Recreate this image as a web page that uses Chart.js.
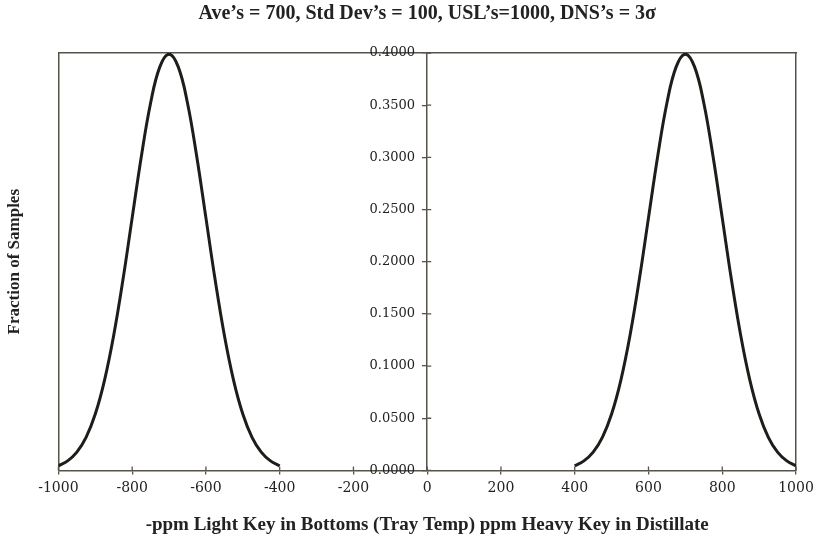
<!DOCTYPE html>
<html>
<head>
<meta charset="utf-8">
<script src="https://cdn.jsdelivr.net/npm/chart.js@4.4.1/dist/chart.umd.min.js"></script>
<style>
  html, body { margin: 0; padding: 0; background: #ffffff; }
  #wrap { width: 816px; height: 539px; }
</style>
</head>
<body>
<div id="wrap"><canvas id="distChart"></canvas></div>
<script>
// Распределения: светлый ключ в кубе (слева) и тяжёлый ключ в дистилляте (справа)
var xLeft = [-1000, -975, -950, -925, -900, -875, -850, -825, -800, -775, -750, -725, -700,
  -675, -650, -625, -600, -575, -550, -525, -500, -475, -450, -425, -400];
var xRight = [400, 425, 450, 475, 500, 525, 550, 575, 600, 625, 650, 675, 700,
  725, 750, 775, 800, 825, 850, 875, 900, 925, 950, 975, 1000];
// доля проб в каждой точке (одинаковая форма для обеих кривых)
var fraction = [0.0044, 0.0091, 0.0175, 0.0317, 0.0540, 0.0863, 0.1295, 0.1826, 0.2420,
  0.3011, 0.3521, 0.3867, 0.3989, 0.3867, 0.3521, 0.3011, 0.2420, 0.1826, 0.1295,
  0.0863, 0.0540, 0.0317, 0.0175, 0.0091, 0.0044];

var xTicks = [-1000, -800, -600, -400, -200, 0, 200, 400, 600, 800, 1000];
var yTicks = [0, 0.05, 0.1, 0.15, 0.2, 0.25, 0.3, 0.35, 0.4];

var titleText = "Ave\u2019s = 700, Std Dev\u2019s = 100, USL\u2019s=1000, DNS\u2019s = 3\u03c3";
var xTitle = "-ppm Light Key in Bottoms (Tray Temp) ppm Heavy Key in Distillate";
var yTitle = "Fraction of Samples";

function toPoints(xs, ys) {
  var pts = [];
  for (var i = 0; i < xs.length; i++) pts.push({ x: xs[i], y: ys[i] });
  return pts;
}

var axisColor = "#57534a";
var lineColor = "#1d1d19";
var textColor = "#222222";

// короткие риски по другую сторону осей (чтобы пересекали линию оси)
var crossTicks = {
  id: "crossTicks",
  afterDraw: function (chart) {
    var ctx = chart.ctx;
    var sx = chart.scales.x;
    var sy = chart.scales.y;
    var y0 = sy.getPixelForValue(0);
    var x0 = sx.getPixelForValue(0);
    ctx.save();
    ctx.strokeStyle = axisColor;
    ctx.lineWidth = 1.3;
    ctx.beginPath();
    xTicks.forEach(function (v) {
      var px = sx.getPixelForValue(v);
      ctx.moveTo(px, y0);
      ctx.lineTo(px, y0 - 4);
    });
    yTicks.forEach(function (v) {
      var py = sy.getPixelForValue(v);
      ctx.moveTo(x0, py);
      ctx.lineTo(x0 + 4, py);
    });
    ctx.stroke();
    ctx.restore();
  }
};

function setTicks(list) {
  return function (axis) {
    axis.ticks = list.map(function (v) { return { value: v }; });
  };
}

// пустая рамка (верх, лево, право) — только линия оси
function frameAxis(pos, extra) {
  var s = {
    type: "linear",
    position: pos,
    ticks: { display: false },
    grid: { display: false, drawTicks: false },
    border: { display: true, color: axisColor, width: 1.5 }
  };
  for (var k in extra) s[k] = extra[k];
  return s;
}

var ctx = document.getElementById("distChart").getContext("2d");
var chart = new Chart(ctx, {
  type: "line",
  data: {
    datasets: [
      {
        data: toPoints(xLeft, fraction),
        borderColor: lineColor,
        borderWidth: 3,
        pointRadius: 0,
        fill: false,
        tension: 0.4
      },
      {
        data: toPoints(xRight, fraction),
        borderColor: lineColor,
        borderWidth: 3,
        pointRadius: 0,
        fill: false,
        tension: 0.4
      }
    ]
  },
  options: {
    responsive: true,
    maintainAspectRatio: false,
    animation: false,
    layout: { padding: { left: 0, right: 20, top: 0, bottom: 2 } },
    plugins: {
      legend: { display: false },
      tooltip: { enabled: false }
    },
    scales: {
      x: {
        type: "linear",
        position: "bottom",
        min: -1000,
        max: 1000,
        afterBuildTicks: setTicks(xTicks),
        afterFit: function (axis) { axis.paddingRight = 0; },
        ticks: {
          color: textColor,
          font: { family: "DejaVu Serif", size: 14 },
          padding: 6,
          maxRotation: 0,
          callback: function (v) { return String(v); }
        },
        grid: { drawOnChartArea: false, drawTicks: true, tickLength: 4, color: axisColor, lineWidth: 1.3 },
        border: { display: true, color: axisColor, width: 1.5 },
        title: {
          display: true,
          text: xTitle,
          color: textColor,
          font: { family: "Liberation Serif", size: 19, weight: "bold" },
          padding: { top: 10, bottom: 1 }
        }
      },
      // верхняя рамка; заголовок графика над ней
      xTop: frameAxis("top", {
        min: -1000,
        max: 1000,
        title: {
          display: true,
          text: titleText,
          color: textColor,
          font: { family: "Liberation Serif", size: 20, weight: "bold" },
          padding: { top: 2, bottom: 27 }
        }
      }),
      // центральная ось Y (линия и риски)
      y: {
        type: "linear",
        position: { x: 0 },
        min: 0,
        max: 0.4,
        afterBuildTicks: setTicks(yTicks),
        ticks: { display: false },
        grid: { drawOnChartArea: false, drawTicks: true, tickLength: 4, color: axisColor, lineWidth: 1.3 },
        border: { display: true, color: axisColor, width: 1.5 }
      },
      // подписи центральной оси, чуть левее линии
      yLabels: {
        type: "linear",
        position: { x: -33 },
        min: 0,
        max: 0.4,
        afterBuildTicks: setTicks(yTicks),
        ticks: {
          color: textColor,
          font: { family: "DejaVu Serif", size: 13 },
          callback: function (v) { return Number(v).toFixed(4); }
        },
        grid: { display: false, drawTicks: false },
        border: { display: false }
      },
      yLeft: frameAxis("left", {
        min: 0,
        max: 0.4,
        title: {
          display: true,
          text: yTitle,
          color: textColor,
          font: { family: "Liberation Serif", size: 17, weight: "bold" },
          padding: { top: 4, bottom: 34 }
        }
      }),
      yRight: frameAxis("right", { min: 0, max: 0.4 })
    }
  },
  plugins: [crossTicks]
});
</script>
</body>
</html>
